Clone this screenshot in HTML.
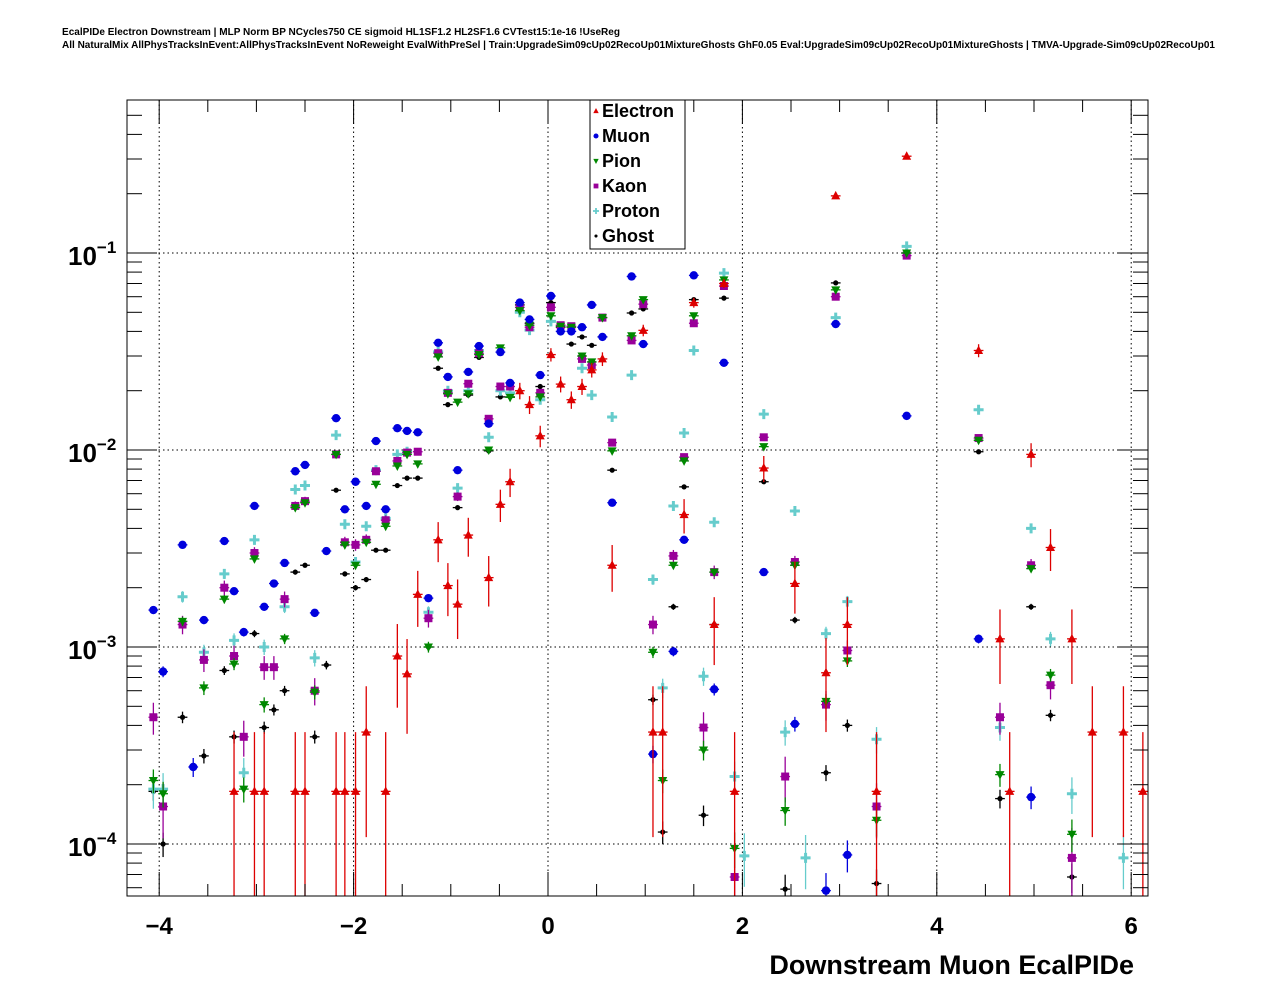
<!DOCTYPE html>
<html><head><meta charset="utf-8">
<style>
html,body{margin:0;padding:0;background:#fff;}
svg{display:block;font-family:"Liberation Sans",Arial,sans-serif;}
</style></head>
<body>
<svg id="chart" width="1276" height="996" viewBox="0 0 1276 996">
<rect x="0" y="0" width="1276" height="996" fill="#fff"/>
<text x="62" y="35" font-size="10" font-weight="bold" textLength="558" lengthAdjust="spacingAndGlyphs">EcalPIDe Electron Downstream | MLP Norm BP NCycles750 CE sigmoid HL1SF1.2 HL2SF1.6 CVTest15:1e-16 !UseReg</text>
<text x="62" y="48" font-size="10" font-weight="bold" textLength="1153" lengthAdjust="spacingAndGlyphs">All NaturalMix AllPhysTracksInEvent:AllPhysTracksInEvent NoReweight EvalWithPreSel | Train:UpgradeSim09cUp02RecoUp01MixtureGhosts GhF0.05 Eval:UpgradeSim09cUp02RecoUp01MixtureGhosts | TMVA-Upgrade-Sim09cUp02RecoUp01</text>
<g id="grid"></g>
<g id="marks"></g>
<g id="axes"></g>
<rect x="127" y="100" width="1021" height="796" fill="none" stroke="#000" stroke-width="1"/>
<g>
<rect x="590" y="100" width="95" height="149" fill="#fff" stroke="#000" stroke-width="1"/>
<g id="legend-entries"></g>
</g>
<text x="1134" y="974" font-size="27" font-weight="bold" text-anchor="end">Downstream Muon EcalPIDe</text>
</svg>
<script>
const xTicks = [-4, -2, 0, 2, 4, 6];
const xTickLabels = ["\u22124", "\u22122", "0", "2", "4", "6"];
const yDecades = [-1, -2, -3, -4];
const seriesNames = ["Electron", "Muon", "Pion", "Kaon", "Proton", "Ghost"];

const electronX = [-3.23,-3.02,-2.92,-2.60,-2.50,-2.18,-2.09,-1.98,-1.87,-1.67,-1.55,-1.45,-1.34,-1.13,-1.03,-0.93,-0.82,-0.61,-0.49,-0.39,-0.29,-0.19,-0.08,0.03,0.13,0.24,0.35,0.45,0.56,0.66,0.98,1.08,1.18,1.40,1.50,1.71,1.81,1.92,2.22,2.54,2.86,2.96,3.08,3.38,3.69,4.43,4.65,4.75,4.97,5.17,5.39,5.60,5.92,6.12];
const electronY = [1.85e-4,1.85e-4,1.85e-4,1.85e-4,1.85e-4,1.85e-4,1.85e-4,1.85e-4,3.7e-4,1.85e-4,9.0e-4,7.3e-4,1.85e-3,3.5e-3,2.05e-3,1.65e-3,3.7e-3,2.25e-3,5.3e-3,6.9e-3,2.0e-2,1.7e-2,1.18e-2,3.05e-2,2.16e-2,1.8e-2,2.1e-2,2.55e-2,2.9e-2,2.6e-3,4.05e-2,3.7e-4,3.7e-4,4.7e-3,5.6e-2,1.3e-3,7.0e-2,1.85e-4,8.1e-3,2.1e-3,7.4e-4,0.195,1.3e-3,1.85e-4,0.31,3.2e-2,1.1e-3,1.85e-4,9.5e-3,3.2e-3,1.1e-3,3.7e-4,3.7e-4,1.85e-4];

const muonX = [-4.06,-3.96,-3.76,-3.65,-3.54,-3.33,-3.23,-3.13,-3.02,-2.92,-2.82,-2.71,-2.60,-2.50,-2.40,-2.28,-2.18,-2.09,-1.98,-1.87,-1.77,-1.67,-1.55,-1.45,-1.34,-1.23,-1.13,-1.03,-0.93,-0.82,-0.71,-0.61,-0.49,-0.39,-0.29,-0.19,-0.08,0.03,0.13,0.24,0.35,0.45,0.56,0.66,0.86,0.98,1.08,1.29,1.40,1.50,1.71,1.81,2.22,2.54,2.86,2.96,3.08,3.69,4.43,4.97];
const muonY = [1.54e-3,7.5e-4,3.3e-3,2.46e-4,1.37e-3,3.45e-3,1.92e-3,1.19e-3,5.2e-3,1.6e-3,2.1e-3,2.67e-3,7.8e-3,8.4e-3,1.49e-3,3.07e-3,1.45e-2,5.0e-3,6.9e-3,5.2e-3,1.11e-2,5.0e-3,1.29e-2,1.25e-2,1.23e-2,1.77e-3,3.5e-2,2.35e-2,7.9e-3,2.49e-2,3.37e-2,1.36e-2,3.14e-2,2.19e-2,5.6e-2,4.6e-2,2.4e-2,6.05e-2,4.0e-2,4.0e-2,4.2e-2,5.45e-2,3.75e-2,5.4e-3,7.6e-2,3.45e-2,2.86e-4,9.5e-4,3.5e-3,7.7e-2,6.1e-4,2.77e-2,2.4e-3,4.07e-4,5.8e-5,4.36e-2,8.8e-5,1.49e-2,1.1e-3,1.73e-4];

const pionX = [-4.06,-3.96,-3.76,-3.54,-3.33,-3.23,-3.13,-3.02,-2.92,-2.71,-2.60,-2.50,-2.40,-2.18,-2.09,-1.98,-1.87,-1.77,-1.67,-1.55,-1.45,-1.34,-1.23,-1.13,-1.03,-0.93,-0.82,-0.71,-0.61,-0.49,-0.39,-0.29,-0.19,-0.08,0.03,0.13,0.24,0.35,0.45,0.56,0.66,0.86,0.98,1.08,1.18,1.29,1.40,1.50,1.60,1.71,1.81,1.92,2.22,2.44,2.54,2.86,2.96,3.08,3.38,3.69,4.43,4.65,4.97,5.17,5.39];
const pionY = [2.1e-4,1.8e-4,1.35e-3,6.2e-4,1.75e-3,8.2e-4,1.9e-4,2.8e-3,5.1e-4,1.1e-3,5.1e-3,5.4e-3,5.9e-4,9.5e-3,3.3e-3,2.6e-3,3.4e-3,6.7e-3,4.1e-3,8.3e-3,9.5e-3,8.5e-3,1.0e-3,2.97e-2,1.93e-2,1.75e-2,1.93e-2,3.05e-2,1.0e-2,3.3e-2,1.85e-2,5.1e-2,4.3e-2,1.86e-2,4.8e-2,4.25e-2,4.2e-2,3.0e-2,2.8e-2,4.7e-2,9.9e-3,3.8e-2,5.8e-2,9.4e-4,2.1e-4,2.6e-3,8.8e-3,4.8e-2,3.0e-4,2.4e-3,7.3e-2,9.5e-5,1.04e-2,1.48e-4,2.6e-3,5.3e-4,6.5e-2,8.5e-4,1.32e-4,0.1,1.12e-2,2.25e-4,2.5e-3,7.2e-4,1.12e-4];

const kaonX = [-4.06,-3.96,-3.76,-3.54,-3.33,-3.23,-3.13,-3.02,-2.92,-2.82,-2.71,-2.60,-2.50,-2.40,-2.18,-2.09,-1.98,-1.87,-1.77,-1.67,-1.55,-1.45,-1.34,-1.23,-1.13,-1.03,-0.93,-0.82,-0.71,-0.61,-0.49,-0.39,-0.29,-0.19,-0.08,0.03,0.13,0.24,0.35,0.45,0.56,0.66,0.86,0.98,1.08,1.29,1.40,1.50,1.60,1.71,1.81,1.92,2.22,2.44,2.54,2.86,2.96,3.08,3.38,3.69,4.43,4.65,4.97,5.17,5.39];
const kaonY = [4.4e-4,1.55e-4,1.3e-3,8.6e-4,2.0e-3,9.0e-4,3.5e-4,3.0e-3,7.9e-4,7.9e-4,1.75e-3,5.2e-3,5.5e-3,6.0e-4,9.5e-3,3.4e-3,3.3e-3,3.5e-3,7.8e-3,4.4e-3,8.8e-3,9.7e-3,9.8e-3,1.4e-3,3.1e-2,1.95e-2,5.8e-3,2.17e-2,3.1e-2,1.44e-2,2.1e-2,2.1e-2,5.3e-2,4.2e-2,1.95e-2,5.3e-2,4.3e-2,4.25e-2,2.9e-2,2.7e-2,4.7e-2,1.09e-2,3.6e-2,5.5e-2,1.3e-3,2.9e-3,9.2e-3,4.4e-2,3.9e-4,2.4e-3,6.8e-2,6.8e-5,1.16e-2,2.2e-4,2.7e-3,5.1e-4,6.0e-2,9.6e-4,1.55e-4,9.7e-2,1.15e-2,4.4e-4,2.6e-3,6.4e-4,8.5e-5];

const protonX = [-4.06,-3.96,-3.76,-3.54,-3.33,-3.23,-3.13,-3.02,-2.92,-2.71,-2.60,-2.50,-2.40,-2.18,-2.09,-1.98,-1.87,-1.77,-1.67,-1.55,-1.45,-1.23,-1.13,-1.03,-0.93,-0.82,-0.71,-0.61,-0.49,-0.39,-0.29,-0.19,-0.08,0.03,0.35,0.45,0.66,0.86,1.08,1.18,1.29,1.40,1.50,1.60,1.71,1.81,1.92,2.02,2.22,2.44,2.54,2.65,2.86,2.96,3.08,3.38,3.69,4.43,4.65,4.97,5.17,5.39,5.92];
const protonY = [1.9e-4,1.9e-4,1.8e-3,9.4e-4,2.35e-3,1.08e-3,2.3e-4,3.5e-3,1.0e-3,1.6e-3,6.3e-3,6.6e-3,8.8e-4,1.19e-2,4.2e-3,2.7e-3,4.1e-3,7.9e-3,4.5e-3,9.5e-3,9.8e-3,1.5e-3,3.15e-2,2.0e-2,6.4e-3,2.0e-2,3.2e-2,1.16e-2,2.0e-2,1.95e-2,5.0e-2,4.06e-2,1.8e-2,4.5e-2,2.6e-2,1.9e-2,1.47e-2,2.4e-2,2.2e-3,6.2e-4,5.2e-3,1.22e-2,3.2e-2,7.1e-4,4.3e-3,7.9e-2,2.2e-4,8.7e-5,1.52e-2,3.7e-4,4.9e-3,8.5e-5,1.17e-3,4.7e-2,1.7e-3,3.4e-4,0.108,1.6e-2,3.9e-4,4.0e-3,1.1e-3,1.8e-4,8.5e-5];

const ghostX = [-4.06,-3.96,-3.76,-3.54,-3.33,-3.23,-3.02,-2.92,-2.82,-2.71,-2.60,-2.50,-2.40,-2.28,-2.18,-2.09,-1.98,-1.87,-1.77,-1.67,-1.55,-1.45,-1.34,-1.23,-1.13,-1.03,-0.93,-0.82,-0.71,-0.61,-0.49,-0.39,-0.29,-0.19,-0.08,0.03,0.13,0.24,0.35,0.45,0.56,0.66,0.86,0.98,1.08,1.18,1.29,1.40,1.50,1.60,1.71,1.81,2.22,2.44,2.54,2.86,2.96,3.08,3.38,3.69,4.43,4.65,4.97,5.17,5.39];
const ghostY = [1.85e-4,1.0e-4,4.4e-4,2.8e-4,7.6e-4,3.5e-4,1.17e-3,3.9e-4,4.8e-4,6.0e-4,2.4e-3,2.6e-3,3.5e-4,8.1e-4,6.25e-3,2.35e-3,2.0e-3,2.2e-3,3.1e-3,3.1e-3,6.6e-3,7.2e-3,7.2e-3,1.0e-3,2.6e-2,1.7e-2,5.1e-3,1.9e-2,2.95e-2,9.9e-3,1.86e-2,1.86e-2,5.45e-2,4.4e-2,2.1e-2,5.6e-2,4.2e-2,3.45e-2,3.75e-2,3.4e-2,3.75e-2,7.9e-3,4.96e-2,5.2e-2,5.4e-4,1.15e-4,1.6e-3,6.5e-3,5.8e-2,1.4e-4,1.3e-3,5.9e-2,6.9e-3,5.9e-5,1.37e-3,2.3e-4,7.05e-2,4.0e-4,6.3e-5,0.1,9.8e-3,1.7e-4,1.6e-3,4.5e-4,6.8e-5];

const NS = "http://www.w3.org/2000/svg";
const L = 127, R = 1148, T = 100, B = 896;
const XMIN = (L - 548) / 97.2, XMAX = (R - 548) / 97.2;
const LOGTOP = -1 + (253 - T) / 197, LOGBOT = -1 - (B - 253) / 197;
function xs(v) { return L + (v - XMIN) / (XMAX - XMIN) * (R - L); }
function ys(v) { return T + (LOGTOP - Math.log10(v)) / (LOGTOP - LOGBOT) * (B - T); }
function mk(tag, attrs, parent) {
  const e = document.createElementNS(NS, tag);
  for (const k in attrs) e.setAttribute(k, attrs[k]);
  parent.appendChild(e);
  return e;
}
const grid = document.getElementById('grid');
const axes = document.getElementById('axes');
const marks = document.getElementById('marks');

xTicks.forEach(t => {
  const x = xs(t);
  const g = mk('line', {x1: x, x2: x, y1: T, y2: B, stroke: '#000', 'stroke-width': 1, 'stroke-dasharray': '1.5,3'}, grid);
  
  
});
yDecades.forEach(d => {
  const y = ys(Math.pow(10, d));
  const g = mk('line', {x1: L, x2: R, y1: y, y2: y, stroke: '#000', 'stroke-width': 1, 'stroke-dasharray': '1.5,3'}, grid);
  
  
});

for (let v = -4.5; v <= 6.01; v += 0.5) {
  const x = xs(v);
  if (x < L || x > R) continue;
  const major = Math.abs(v / 2 - Math.round(v / 2)) < 1e-6;
  const len = major ? 24 : 12;
  const t1 = mk('line', {x1: x, x2: x, y1: B, y2: B - len, stroke: '#000', 'stroke-width': 1}, axes);
  
  
  const t2 = mk('line', {x1: x, x2: x, y1: T, y2: T + len, stroke: '#000', 'stroke-width': 1}, axes);
  
  
}
xTicks.forEach((t, i) => {
  const tx = mk('text', {x: xs(t), y: 934, 'font-size': 24, 'font-weight': 'bold', 'text-anchor': 'middle'}, axes);
  tx.textContent = xTickLabels[i];
  
  
});
for (let d = -5; d <= 0; d++) {
  for (let m = 1; m <= 9; m++) {
    const v = m * Math.pow(10, d);
    const y = ys(v);
    if (y < T || y > B) continue;
    const len = m === 1 ? 30 : 15;
    const a = mk('line', {x1: L, x2: L + len, y1: y, y2: y, stroke: '#000', 'stroke-width': 1}, axes);
    
    
    const b = mk('line', {x1: R, x2: R - len, y1: y, y2: y, stroke: '#000', 'stroke-width': 1}, axes);
    
    
  }
}
yDecades.forEach(d => {
  const y = ys(Math.pow(10, d));
  const tx = mk('text', {x: 68, y: y + 12, 'font-size': 26, 'font-weight': 'bold'}, axes);
  tx.textContent = '10';
  const sup = mk('tspan', {dy: -12, 'font-size': 17}, tx);
  sup.textContent = '\u2212' + Math.abs(d);
  
  
});

const colors = {Electron: '#dd0000', Muon: '#0000dd', Pion: '#008800', Kaon: '#990099', Proton: '#66cccc', Ghost: '#000000'};
const units = {Electron: 1.85e-4, Muon: 3e-6, Pion: 4e-6, Kaon: 1.5e-5, Proton: 8e-6, Ghost: 2e-6};

function marker(name, cx, cy, parent, scale) {
  const c = colors[name];
  const s = scale || 1;
  let e;
  if (name === 'Electron') {
    e = mk('polygon', {points: `${cx},${cy - 5 * s} ${cx - 4.5 * s},${cy + 3.5 * s} ${cx + 4.5 * s},${cy + 3.5 * s}`, fill: c}, parent);
  } else if (name === 'Muon') {
    e = mk('circle', {cx: cx, cy: cy, r: 4.2 * s, fill: c}, parent);
  } else if (name === 'Pion') {
    e = mk('polygon', {points: `${cx},${cy + 5 * s} ${cx - 4.5 * s},${cy - 3.5 * s} ${cx + 4.5 * s},${cy - 3.5 * s}`, fill: c}, parent);
  } else if (name === 'Kaon') {
    e = mk('rect', {x: cx - 4 * s, y: cy - 4 * s, width: 8 * s, height: 8 * s, fill: c}, parent);
  } else if (name === 'Proton') {
    e = mk('path', {d: `M${cx - 5 * s},${cy - 1.5 * s}h${3.5 * s}v${-3.5 * s}h${3 * s}v${3.5 * s}h${3.5 * s}v${3 * s}h${-3.5 * s}v${3.5 * s}h${-3 * s}v${-3.5 * s}h${-3.5 * s}z`, fill: c}, parent);
  } else {
    e = mk('circle', {cx: cx, cy: cy, r: 2.6 * s, fill: c}, parent);
  }
  return e;
}

const seriesData = {
  Electron: [electronX, electronY], Muon: [muonX, muonY], Pion: [pionX, pionY],
  Kaon: [kaonX, kaonY], Proton: [protonX, protonY], Ghost: [ghostX, ghostY]
};
const drawOrder = ['Ghost', 'Proton', 'Kaon', 'Pion', 'Muon', 'Electron'];
drawOrder.forEach(name => {
  const [X, Y] = seriesData[name];
  const g = mk('g', {}, marks);
  
  
  const c = colors[name];
  for (let i = 0; i < X.length; i++) {
    const cx = xs(X[i]), cy = ys(Y[i]);
    const rel = Math.min(1, Math.sqrt(units[name] / Y[i]));
    const lo = rel >= 0.999 ? B : Math.min(B, ys(Y[i] * (1 - rel)));
    const hi = Math.max(T, ys(Y[i] * (1 + rel)));
    const pt = mk('g', {}, g);
    
    
    mk('line', {x1: cx, x2: cx, y1: hi, y2: lo, stroke: c, 'stroke-width': 1.3}, pt);
    mk('line', {x1: xs(X[i] - 0.05), x2: xs(X[i] + 0.05), y1: cy, y2: cy, stroke: c, 'stroke-width': 1.3}, pt);
    marker(name, cx, cy, pt, 1);
  }
});

const le = document.getElementById('legend-entries');
seriesNames.forEach((name, i) => {
  const y = 111 + i * 25;
  const g = mk('g', {}, le);
  
  
  marker(name, 596, y, g, 0.6);
  const t = mk('text', {x: 602, y: y + 6, 'font-size': 18, 'font-weight': 'bold'}, g);
  t.textContent = name;
});
</script>
</body></html>
